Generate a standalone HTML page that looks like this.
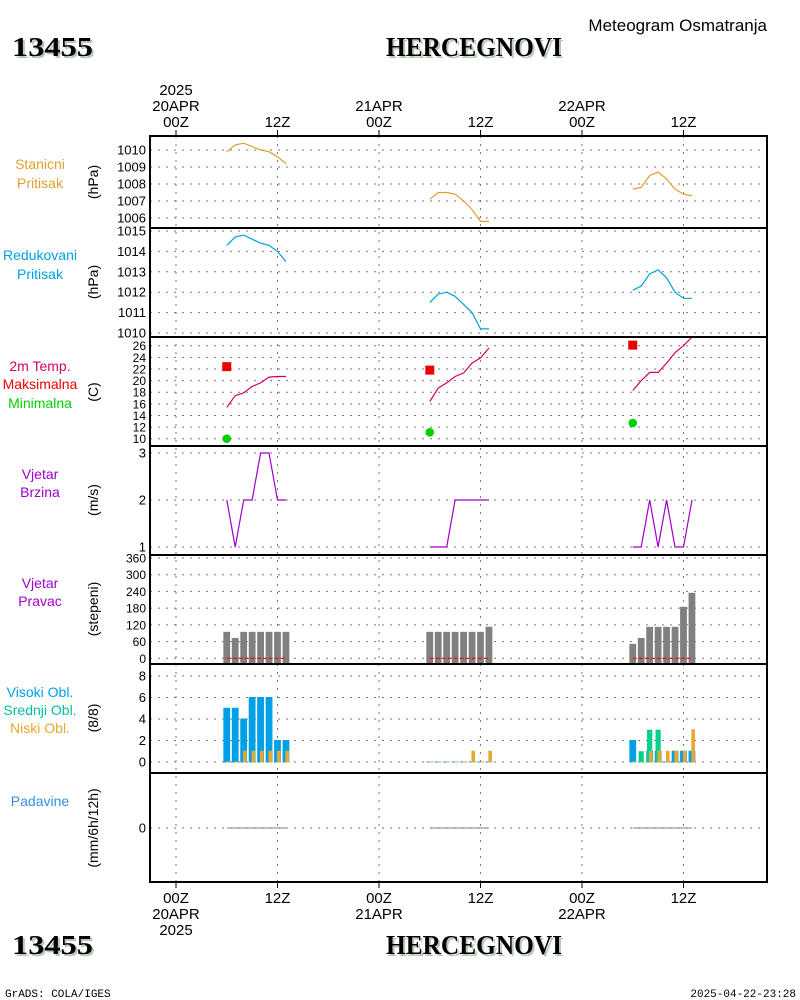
<!DOCTYPE html>
<html><head><meta charset="utf-8"><style>
body{margin:0;background:#fff;}
svg{display:block;font-family:"Liberation Sans",sans-serif;}
</style></head><body>
<svg id="chart" width="800" height="1000" viewBox="0 0 800 1000">
<g id="static"></g>
</svg>
<script>
// ---------- DATA ----------
const hours1 = [6,7,8,9,10,11,12,13];
const hours2 = [30,31,32,33,34,35,36,37];
const hours3 = [54,55,56,57,58,59,60,61];
const stnP1 = [1009.9,1010.3,1010.4,1010.2,1010.0,1009.9,1009.6,1009.2];
const stnP2 = [1007.1,1007.5,1007.5,1007.4,1007.0,1006.5,1005.8,1005.8];
const stnP3 = [1007.7,1007.8,1008.5,1008.7,1008.3,1007.7,1007.4,1007.3];
const redP1 = [1014.3,1014.7,1014.8,1014.6,1014.4,1014.3,1014.0,1013.5];
const redP2 = [1011.5,1011.9,1012.0,1011.8,1011.4,1011.0,1010.2,1010.2];
const redP3 = [1012.1,1012.3,1012.9,1013.1,1012.7,1012.0,1011.7,1011.7];
const temp1 = [15.4,17.4,17.9,19.0,19.6,20.6,20.7,20.7];
const temp2 = [16.4,18.7,19.6,20.7,21.3,23.0,23.9,25.6];
const temp3 = [18.3,20.0,21.4,21.4,23.0,24.8,26.0,27.5];
const tmaxHours = [6,30,54];
const tmaxVals = [22.4,21.8,26.1];
const tminVals = [10.0,11.1,12.7];
const wind1 = [2,1,2,2,3,3,2,2];
const wind2 = [1,1,1,2,2,2,2,2];
const wind3 = [1,1,2,1,2,1,1,2];
const dir1 = [95,73,95,95,95,95,95,95];
const dir2 = [95,95,95,95,95,95,95,113];
const dir3 = [52,73,113,113,113,113,185,235];
const high1 = [5,5,4,6,6,6,2,2];
const high2 = [0,0,0,0,0,0,0,0];
const high3 = [2,0,1,1,0,1,1,1];
const mid1 = [0,0,0,0,0,0,0,0];
const mid2 = [0,0,0,0,0,0,0,0];
const mid3 = [0,1,3,3,0,0,0,0];
const low1 = [0,0,1,1,1,1,1,1];
const low2 = [0,0,0,0,0,1,0,1];
const low3 = [0,0,1,1,1,1,1,3];
const precip1 = [0,0,0,0,0,0,0,0];
const precip2 = [0,0,0,0,0,0,0,0];
const precip3 = [0,0,0,0,0,0,0,0];
const pTicks = [1006,1007,1008,1009,1010];
const rTicks = [1010,1011,1012,1013,1014,1015];
const tTicks = [10,12,14,16,18,20,22,24,26];
const wTicks = [1,2,3];
const dTicks = [0,60,120,180,240,300,360];
const cTicks = [0,2,4,6,8];
const prTicks = [0];

// ---------- LAYOUT ----------
const svg = document.getElementById('chart');
const NS = 'http://www.w3.org/2000/svg';
const X0 = 150, X1 = 767;
const xH = h => 176 + h * (101.5/12);
function lin(d0,d1,r0,r1){return v => r0 + (v-d0)*(r1-r0)/(d1-d0);}
const yP = lin(1006,1010,218,150);
const yR = lin(1010,1015,333,231);
const yT = lin(10,26,438.7,345.7);
const yW = lin(1,3,547,453);
const yD = lin(0,360,658.3,558);
const yC = lin(0,8,762,676);
const yPr = lin(0,1,828,810);
const panels = [[136,228],[228,337],[337,446],[446,555],[555,664],[664,773],[773,882]];

function mk(tag, attrs, parent){
  const e = document.createElementNS(NS, tag);
  for (const k in attrs) e.setAttribute(k, attrs[k]);
  (parent||svg).appendChild(e);
  return e;
}
function txt(x,y,s,opts,parent){
  const e = mk('text', Object.assign({x:x,y:y}, opts||{}), parent);
  e.textContent = s;
  return e;
}

const gridHours = [0,12,24,36,48,60];
for (const h of gridHours){
  const l = mk('line',{x1:xH(h),x2:xH(h),y1:136,y2:882,stroke:'#777','stroke-width':1,'stroke-dasharray':'2,6'});
  
  
  const t1 = mk('line',{x1:xH(h),x2:xH(h),y1:130,y2:136,stroke:'#000','stroke-width':1});
  
  
  const t2 = mk('line',{x1:xH(h),x2:xH(h),y1:882,y2:888,stroke:'#000','stroke-width':1});
  
  
}

function yAxis(ticks, yf, name, size){
  for (const v of ticks){
    const y = yf(v);
    const g = mk('line',{x1:X0,x2:X1,y1:y,y2:y,stroke:'#777','stroke-width':1,'stroke-dasharray':'2,6'});
    
    
    const t = txt(146, y+4.5, String(v), {'text-anchor':'end','font-size':size||13,fill:'#000'});
    
    
  }
}
yAxis(pTicks,yP,'station-pressure');
yAxis(rTicks,yR,'reduced-pressure');
yAxis(tTicks,yT,'temperature',12);
yAxis(wTicks,yW,'wind-speed');
yAxis(dTicks,yD,'wind-direction',12);
yAxis(cTicks,yC,'cloud-cover');
yAxis(prTicks,yPr,'precipitation');

function line(hs, vals, yf, color, name, clip, w){
  const pts = hs.map((h,i)=>xH(h).toFixed(1)+','+yf(vals[i]).toFixed(1)).join(' ');
  const p = mk('polyline',{points:pts,fill:'none',stroke:color,'stroke-width':w||1.2});
  if (clip) p.setAttribute('clip-path','url(#'+clip+')');
  
  
}
const defs = mk('defs',{});
const cp = mk('clipPath',{id:'clipT'},defs);
mk('rect',{x:X0,y:337,width:X1-X0,height:109},cp);

line(hours1,stnP1,yP,'#e0a030','station-pressure-line-day1');
line(hours2,stnP2,yP,'#e0a030','station-pressure-line-day2');
line(hours3,stnP3,yP,'#e0a030','station-pressure-line-day3');
line(hours1,redP1,yR,'#00a0e0','reduced-pressure-line-day1');
line(hours2,redP2,yR,'#00a0e0','reduced-pressure-line-day2');
line(hours3,redP3,yR,'#00a0e0','reduced-pressure-line-day3');
line(hours1,temp1,yT,'#d0006a','temperature-line-day1','clipT');
line(hours2,temp2,yT,'#d0006a','temperature-line-day2','clipT');
line(hours3,temp3,yT,'#d0006a','temperature-line-day3','clipT');
tmaxHours.forEach((h,i)=>{
  const r = mk('rect',{x:xH(h)-4.5,y:yT(tmaxVals[i])-4.5,width:9,height:9,fill:'#f00000'});
  
  
  const c = mk('circle',{cx:xH(h),cy:yT(tminVals[i]),r:4.3,fill:'#00d000'});
  
  
});
line(hours1,wind1,yW,'#a000c8','wind-speed-line-day1');
line(hours2,wind2,yW,'#a000c8','wind-speed-line-day2');
line(hours3,wind3,yW,'#a000c8','wind-speed-line-day3');

function dirBars(hs, vals){
  hs.forEach((h,i)=>{
    const y = yD(vals[i]);
    const b = mk('rect',{x:xH(h)-3.4,y:y,width:6.8,height:664-y,fill:'#808080'});
    
    
  });
  const l = mk('line',{x1:xH(hs[0]),x2:xH(hs[hs.length-1]),y1:yD(0),y2:yD(0),stroke:'#ff0000','stroke-width':1.2,'stroke-dasharray':'4,2'});
  
  
}
dirBars(hours1,dir1); dirBars(hours2,dir2); dirBars(hours3,dir3);

function cloudBars(hs, hi, mi, lo){
  hs.forEach((h,i)=>{
    const x = xH(h);
    const b1 = mk('rect',{x:x-3.4,y:yC(hi[i])-0.5,width:6.8,height:yC(0)-yC(hi[i])+1,fill:'#00a0e6'});
    
    
    if (mi[i]>0){
      const b2 = mk('rect',{x:x-2.6,y:yC(mi[i]),width:5.2,height:yC(0)-yC(mi[i]),fill:'#00d090'});
      
      
    }
    const b3 = mk('rect',{x:x-0.6,y:yC(lo[i])-0.5,width:3.6,height:yC(0)-yC(lo[i])+1,fill:'#e8a830'});
    
    
  });
}
cloudBars(hours1,high1,mid1,low1);
cloudBars(hours2,high2,mid2,low2);
cloudBars(hours3,high3,mid3,low3);

line(hours1,precip1,yPr,'#555','precipitation-line-day1',null,0.8);
line(hours2,precip2,yPr,'#555','precipitation-line-day2',null,0.8);
line(hours3,precip3,yPr,'#555','precipitation-line-day3',null,0.8);

panels.forEach((p,i)=>{
  const r = mk('rect',{x:X0,y:p[0],width:X1-X0,height:p[1]-p[0],fill:'none',stroke:'#000','stroke-width':2});
  
  
});

const yTitles = [['(hPa)',182],['(hPa)',282],['(C)',392],['(m/s)',500],['(stepeni)',609],['(8/8)',718],['(mm/6h/12h)',828]];
yTitles.forEach(t=>{
  const e = txt(0,0,t[0],{'text-anchor':'middle','font-size':14,transform:'translate(98,'+t[1]+') rotate(-90)'});
  
  
});
const labels = [['Stanicni',169,'#e0a030'],['Pritisak',188,'#e0a030'],['Redukovani',260,'#00a0e0'],['Pritisak',279,'#00a0e0'],
 ['2m Temp.',371,'#d0006a'],['Maksimalna',389,'#f00000'],['Minimalna',408,'#00d000'],
 ['Vjetar',479,'#a000c8'],['Brzina',497,'#a000c8'],['Vjetar',588,'#a000c8'],['Pravac',606,'#a000c8'],
 ['Visoki Obl.',697,'#00a0e6'],['Srednji Obl.',715,'#00c0a0'],['Niski Obl.',733,'#e8a830'],['Padavine',806,'#3090e0']];
labels.forEach(l=>{
  const e = txt(40,l[1],l[0],{'text-anchor':'middle','font-size':14,fill:l[2]});
  
  
});
const topLabels = [[0,['2025','20APR','00Z']],[12,['12Z']],[24,['21APR','00Z']],[36,['12Z']],[48,['22APR','00Z']],[60,['12Z']]];
topLabels.forEach(t=>{
  const n = t[1].length;
  t[1].forEach((s,j)=>{
    const e = txt(xH(t[0]),127-(n-1-j)*16,s,{'text-anchor':'middle','font-size':15});
    
    
  });
});
const botLabels = [[0,['00Z','20APR','2025']],[12,['12Z']],[24,['00Z','21APR']],[36,['12Z']],[48,['00Z','22APR']],[60,['12Z']]];
botLabels.forEach(t=>{
  t[1].forEach((s,j)=>{
    const e = txt(xH(t[0]),903+j*16,s,{'text-anchor':'middle','font-size':15});
    
    
  });
});
function title(x,y,s,anchor,name,len){
  const base = {'text-anchor':anchor,'font-size':27,'font-weight':'bold','font-family':'Liberation Serif, serif',textLength:len,lengthAdjust:'spacingAndGlyphs'};
  const sh = txt(x+2,y+2,s,Object.assign({},base,{fill:'#b8c8b8'}));
  
  
  const e = txt(x,y,s,Object.assign({},base,{fill:'#000'}));
  
  
}
title(12,56,'13455','start','station-id',81);
title(474,56,'HERCEGNOVI','middle','station-name',176);
title(12,954,'13455','start','station-id-bottom',81);
title(474,954,'HERCEGNOVI','middle','station-name-bottom',176);
let e = txt(767,31,'Meteogram Osmatranja',{'text-anchor':'end','font-size':17});


e = txt(5,997,'GrADS: COLA/IGES',{'font-size':11,'font-family':'Liberation Mono, monospace'});


e = txt(796,997,'2025-04-22-23:28',{'text-anchor':'end','font-size':11,'font-family':'Liberation Mono, monospace'});


</script>
</body></html>
